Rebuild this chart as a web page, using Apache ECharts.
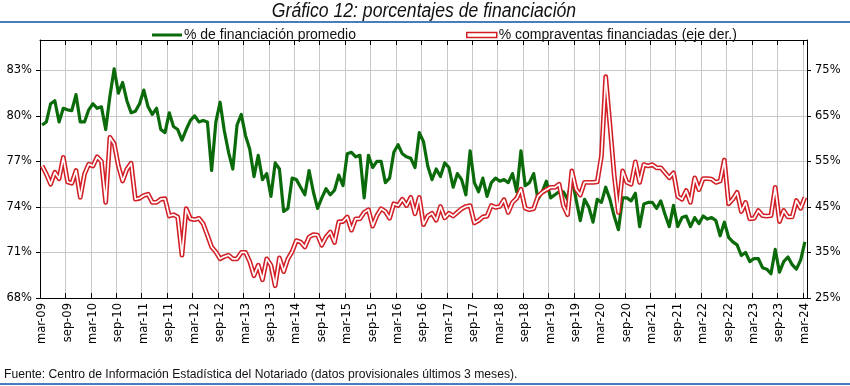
<!DOCTYPE html>
<html>
<head>
<meta charset="utf-8">
<script src="https://cdn.jsdelivr.net/npm/echarts@6/dist/echarts.min.js"></script>
<style>
html,body{margin:0;padding:0;background:#fff;}
#c{width:850px;height:386px;}
</style>
</head>
<body>
<div id="c"></div>
<script>
// ---- data ----
const monthNames = ['ene','feb','mar','abr','may','jun','jul','ago','sep','oct','nov','dic'];
const categories = [];
for (let k = 0; k < 181; k++) {
  const m = (2 + k) % 12;
  const y = 9 + Math.floor((2 + k) / 12);
  categories.push(monthNames[m] + '-' + String(y).padStart(2, '0'));
}

// % de financiación promedio (left axis)
const financiacionPromedio = [
  79.4,79.6,80.8,81.0,79.6,80.5,80.4,80.35,81.4,79.6,
  79.6,80.4,80.8,80.5,80.6,79.1,81.3,83.1,81.5,82.2,
  81.0,80.2,80.3,80.8,81.7,80.6,80.1,80.5,79.1,78.9,
  80.2,79.3,79.1,78.4,79.1,79.7,80.0,79.6,79.7,79.6,
  76.4,79.6,80.9,79.0,77.6,76.5,79.4,80.1,78.7,77.8,
  76.0,77.4,75.8,76.2,74.7,76.9,76.5,73.7,73.9,75.9,
  75.8,75.3,74.8,76.4,75.0,73.9,74.6,75.2,74.8,75.1,
  76.1,75.4,77.5,77.6,77.3,77.4,74.6,77.4,76.6,77.0,
  77.0,75.6,75.9,77.6,78.1,77.5,77.3,77.2,76.6,78.9,
  78.3,76.7,75.8,76.5,76.0,76.9,76.6,75.3,76.2,75.8,
  74.8,77.7,75.6,75.0,75.9,74.7,75.6,75.9,75.7,75.8,
  75.6,76.2,75.0,77.7,75.4,75.6,76.2,74.5,75.0,75.7,
  74.6,74.8,75.0,75.0,74.5,76.0,74.5,73.1,74.5,74.0,
  73.0,74.5,74.3,75.3,74.5,73.4,72.5,74.6,74.6,74.4,
  74.9,72.7,74.2,74.3,74.3,73.9,74.4,73.5,72.7,74.1,
  72.7,73.3,73.4,72.7,73.3,72.9,73.4,73.2,73.3,73.1,
  72.1,73.0,72.0,71.7,71.5,70.8,71.0,70.4,70.6,70.6,
  70.0,69.9,69.6,71.2,69.7,70.4,70.7,70.2,69.9,70.5,
  71.7
];

// % compraventas financiadas (right axis)
const compraventasFinanciadas = [
  54.0,52.2,50.0,52.6,51.2,55.9,50.5,50.2,53.0,47.1,
  52.2,54.4,54.0,56.0,55.0,46.0,60.3,58.9,54.0,50.7,
  53.3,54.6,46.7,46.9,47.5,47.8,46.0,46.0,46.7,46.8,
  43.0,43.3,42.8,34.4,44.6,42.4,42.2,42.5,41.3,38.8,
  36.2,35.1,33.6,34.1,34.4,33.6,33.6,35.0,35.0,33.0,
  29.9,32.2,29.0,33.6,32.2,27.7,33.8,30.8,33.6,35.2,
  37.6,37.3,36.2,38.4,38.9,38.8,36.6,38.4,39.5,37.2,
  41.7,41.8,42.8,39.9,42.4,42.4,43.8,44.4,40.8,43.1,
  44.6,44.0,42.5,45.7,45.3,46.7,45.3,47.1,43.5,47.1,
  41.1,43.0,43.6,42.1,45.1,42.6,43.6,43.0,43.8,44.6,
  45.1,45.3,41.5,42.0,42.8,43.0,45.3,44.9,45.1,46.6,
  43.8,46.0,46.9,48.9,44.7,44.4,44.6,47.3,48.2,48.8,
  49.3,49.3,50.0,45.3,43.3,52.9,48.9,47.6,50.4,50.4,
  50.4,50.5,56.2,73.6,63.0,52.0,43.8,52.9,50.4,50.0,
  54.9,50.4,54.3,54.0,54.3,53.6,53.6,52.5,51.4,52.5,
  47.3,46.7,48.6,46.0,51.4,48.8,51.2,51.2,51.1,50.4,
  50.7,55.3,45.7,46.7,48.2,44.0,46.0,42.4,42.5,44.2,
  43.1,43.0,43.1,49.3,41.8,44.2,42.8,42.8,46.4,44.7,
  47.1
];

const leftTicks = { min: 68, max: 85, interval: 3 };
const rightTicks = { min: 25, max: 25 + 50 * 17 / 15, interval: 10 };

const titleText = 'Gráfico 12: porcentajes de financiación';
const nameGreen = '% de financiación promedio';
const nameRed = '% compraventas financiadas (eje der.)';
const footText = 'Fuente: Centro de Información Estadística del Notariado (datos provisionales últimos 3 meses).';

// ---- chart ----
const SANS = '"Liberation Sans Narrow", "Liberation Sans", Arial, sans-serif';
const GREEN = '#0b6b0b';
const RED = '#d21f26';
const GRID = '#c8c8c8';

const chart = echarts.init(document.getElementById('c'), null, { renderer: 'canvas' });

chart.setOption({
  animation: false,
  backgroundColor: '#fff',
  legend: [
    {
      left: 147, top: 23,
      itemWidth: 30, itemHeight: 3, itemGap: 0,
      textStyle: { fontFamily: SANS, fontSize: 14, color: '#111', padding: [0, 0, 0, -3] },
      data: [{ name: nameGreen, icon: 'rect', itemStyle: { color: GREEN } }]
    },
    {
      left: 461, top: 23,
      itemWidth: 30, itemHeight: 5,
      textStyle: { fontFamily: SANS, fontSize: 14, color: '#111', padding: [0, 0, 0, -3] },
      data: [{ name: nameRed, icon: 'rect', itemStyle: { color: '#fff', borderColor: RED, borderWidth: 1.5 } }]
    }
  ],
  graphic: [
    { type: 'line', shape: { x1: 0, y1: 22, x2: 850, y2: 22 }, style: { stroke: '#4a7ebb', lineWidth: 2 }, z: 1 },
    { type: 'line', shape: { x1: 0, y1: 384, x2: 850, y2: 384 }, style: { stroke: '#4a7ebb', lineWidth: 2 } },
    {
      type: 'text', x: 424, y: 11, scaleX: 0.88, z: 10,
      style: {
        text: titleText, font: 'italic 20px ' + SANS, fill: '#111',
        align: 'center', verticalAlign: 'middle'
      }
    },
    {
      type: 'text', x: 4, y: 374, scaleX: 0.935,
      style: { text: footText, font: '13px ' + SANS, fill: '#111', align: 'left', verticalAlign: 'middle' }
    }
  ],
  grid: { left: 40, top: 40, width: 767, height: 258, containLabel: false },
  xAxis: [
    {
      type: 'category',
      data: categories,
      boundaryGap: true,
      position: 'bottom',
      axisLine: { show: true, lineStyle: { color: '#000', width: 1 } },
      axisTick: { show: true, inside: true, length: 5, interval: 5, lineStyle: { color: '#000' } },
      axisLabel: {
        interval: 5, rotate: 90, margin: 5,
        fontFamily: 'DejaVu Sans', fontSize: 11.5, color: '#000'
      },
      splitLine: { show: true, interval: 5, lineStyle: { color: GRID, width: 1 } }
    },
    {
      type: 'category',
      data: categories,
      boundaryGap: true,
      position: 'top',
      axisLine: { show: true, lineStyle: { color: '#000', width: 1 } },
      axisTick: { show: true, inside: true, length: 5, interval: 5, lineStyle: { color: '#000' } },
      axisLabel: { show: false },
      splitLine: { show: false }
    }
  ],
  yAxis: [
    {
      type: 'value',
      min: leftTicks.min, max: leftTicks.max, interval: leftTicks.interval,
      position: 'left',
      axisLine: { show: true, lineStyle: { color: '#000', width: 1 } },
      axisTick: { show: true, length: 4, lineStyle: { color: '#000' } },
      axisLabel: {
        formatter: '{value}%', margin: 8, showMaxLabel: false,
        fontFamily: 'DejaVu Sans', fontSize: 11.5, color: '#000'
      },
      splitLine: { show: true, lineStyle: { color: GRID, width: 1 } }
    },
    {
      type: 'value',
      min: rightTicks.min, max: rightTicks.max, interval: rightTicks.interval,
      position: 'right',
      axisLine: { show: true, lineStyle: { color: '#000', width: 1 } },
      axisTick: { show: true, length: 4, lineStyle: { color: '#000' } },
      axisLabel: {
        formatter: '{value}%', margin: 8, showMaxLabel: false,
        fontFamily: 'DejaVu Sans', fontSize: 11.5, color: '#000'
      },
      splitLine: { show: false }
    }
  ],
  series: [
    {
      name: nameGreen,
      type: 'line',
      xAxisIndex: 0, yAxisIndex: 0,
      data: financiacionPromedio,
      showSymbol: false, symbol: 'none',
      lineStyle: { color: GREEN, width: 3.2, join: 'round' },
      itemStyle: { color: GREEN },
      z: 3
    },
    {
      name: nameRed,
      type: 'line',
      xAxisIndex: 0, yAxisIndex: 1,
      data: compraventasFinanciadas,
      showSymbol: false, symbol: 'none',
      lineStyle: { color: RED, width: 4.8, join: 'round' },
      itemStyle: { color: RED },
      z: 4
    },
    {
      name: 'inner',
      type: 'line',
      xAxisIndex: 0, yAxisIndex: 1,
      data: compraventasFinanciadas,
      showSymbol: false, symbol: 'none',
      lineStyle: { color: '#ffffff', width: 1.7, join: 'round' },
      itemStyle: { color: '#fff' },
      silent: true,
      z: 5
    }
  ]
});
</script>
</body>
</html>
